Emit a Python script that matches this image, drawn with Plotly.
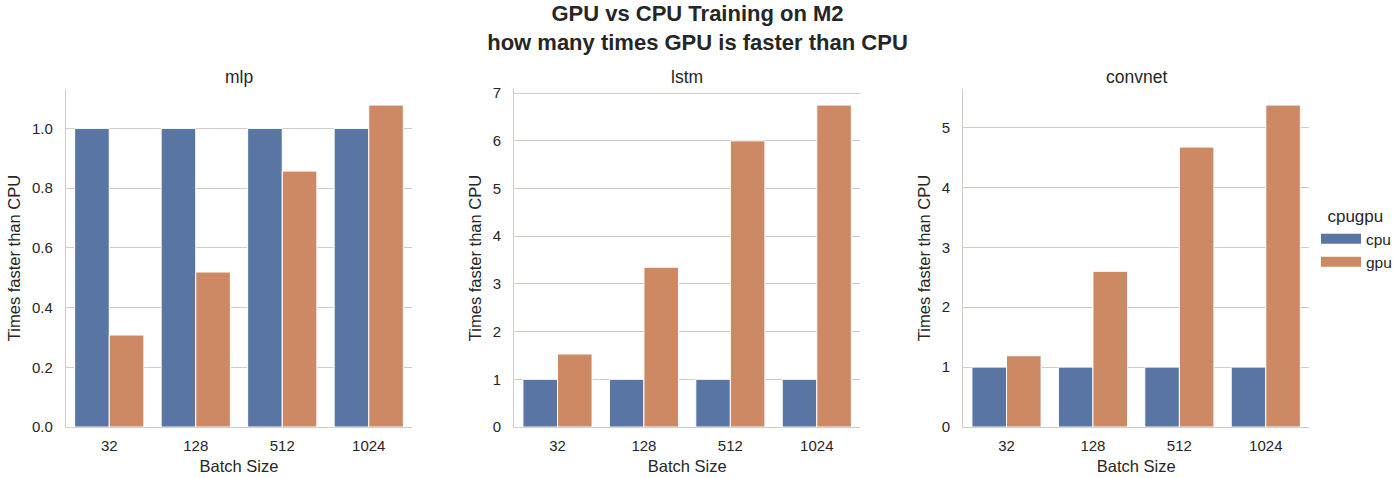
import plotly.graph_objects as go

# ---- data ----
batch_sizes = ["32", "128", "512", "1024"]
models = ["mlp", "lstm", "convnet"]
cpu_mlp = [1.0, 1.0, 1.0, 1.0]
gpu_mlp = [0.308, 0.519, 0.857, 1.078]
cpu_lstm = [1.0, 1.0, 1.0, 1.0]
gpu_lstm = [1.53, 3.35, 6.00, 6.75]
cpu_convnet = [1.0, 1.0, 1.0, 1.0]
gpu_convnet = [1.19, 2.60, 4.675, 5.376]
series_names = ["cpu", "gpu"]
legend_title = "cpugpu"
title_text = "<b>GPU vs CPU Training on M2<br>how many times GPU is faster than CPU</b>"
x_title = "Batch Size"
y_title = "Times faster than CPU"

# ---- style ----
CPU_COLOR = "#5975a4"
GPU_COLOR = "#cc8963"
GRID = "#d3cbc7"
TXT = "#262626"
FONT = "Liberation Sans, Arial, sans-serif"

W, H = 1400, 478
ML, MR, MT, MB = 66, 91, 89, 51
PW = W - ML - MR
PH = H - MT - MB

def frac(px):
    return (px - ML) / PW

domains = [
    [0.0, frac(412)],
    [frac(514.3), frac(860)],
    [frac(963.3), 1.0],
]
ytick_cfg = [
    dict(dtick=0.2, tickformat=".1f"),
    dict(dtick=1, tickformat="d"),
    dict(dtick=1, tickformat="d"),
]

data = {
    "mlp": (cpu_mlp, gpu_mlp),
    "lstm": (cpu_lstm, gpu_lstm),
    "convnet": (cpu_convnet, gpu_convnet),
}

fig = go.Figure()
annotations = []
for i, m in enumerate(models):
    cpu, gpu = data[m]
    xa = "x" if i == 0 else f"x{i+1}"
    ya = "y" if i == 0 else f"y{i+1}"
    for name, vals, col in [(series_names[0], cpu, CPU_COLOR), (series_names[1], gpu, GPU_COLOR)]:
        fig.add_trace(go.Bar(
            x=batch_sizes, y=vals, name=name, xaxis=xa, yaxis=ya,
            marker=dict(color=col, line=dict(color="white", width=1)),
            showlegend=False, offsetgroup=name,
        ))
    ymax = max(max(cpu), max(gpu)) * 1.05
    axis_common = dict(
        showline=True, linecolor=GRID, linewidth=1.3,
        tickfont=dict(size=15, color=TXT, family=FONT),
        ticks="", mirror=False,
    )
    fig.layout[f"xaxis{'' if i == 0 else i+1}"] = dict(
        domain=domains[i], anchor=ya, type="category",
        categoryorder="array", categoryarray=batch_sizes,
        range=[-0.5, 3.5], showgrid=False, zeroline=False,
        title=dict(text=x_title, font=dict(size=16.5, color=TXT, family=FONT), standoff=7),
        ticklabelstandoff=5,
        **axis_common,
    )
    fig.layout[f"yaxis{'' if i == 0 else i+1}"] = dict(
        domain=[0, 1], anchor=xa, range=[0, ymax],
        showgrid=True, gridcolor=GRID, gridwidth=1.1, zeroline=False,
        tick0=0, **ytick_cfg[i],
        title=dict(text=y_title, font=dict(size=16.5, color=TXT, family=FONT), standoff=7),
        ticklabelstandoff=9,
        **axis_common,
    )
    annotations.append(dict(
        text=m, xref="paper", yref="paper",
        x=(domains[i][0] + domains[i][1]) / 2, y=1 + (MT - 77) / PH,
        xanchor="center", yanchor="middle", showarrow=False,
        font=dict(size=17.5, color=TXT, family=FONT),
    ))

# legend-only traces
for name, col in [(series_names[0], CPU_COLOR), (series_names[1], GPU_COLOR)]:
    fig.add_trace(go.Scatter(
        x=[None], y=[None], mode="lines", name=name,
        line=dict(color=col, width=11), xaxis="x3", yaxis="y3", showlegend=True,
    ))

fig.update_layout(
    width=W, height=H,
    margin=dict(l=ML, r=MR, t=MT, b=MB, autoexpand=False),
    paper_bgcolor="white", plot_bgcolor="white",
    barmode="group", bargap=0.2, bargroupgap=0,
    font=dict(family=FONT, color=TXT),
    title=dict(text=title_text, x=697.5 / W, xref="container", xanchor="center",
               y=1 - 21 / H, yref="container", yanchor="middle",
               font=dict(size=22, color=TXT, family=FONT)),
    annotations=annotations,
    legend=dict(
        title=dict(text="\u00a0\u00a0" + legend_title, font=dict(size=17, color=TXT, family=FONT)),
        font=dict(size=15.5, color=TXT, family=FONT),
        xref="container", yref="container",
        x=1316 / W, y=1 - 200 / H, xanchor="left", yanchor="top",
        bgcolor="rgba(0,0,0,0)", itemwidth=40,
    ),
)

fig.write_html("out.html")
